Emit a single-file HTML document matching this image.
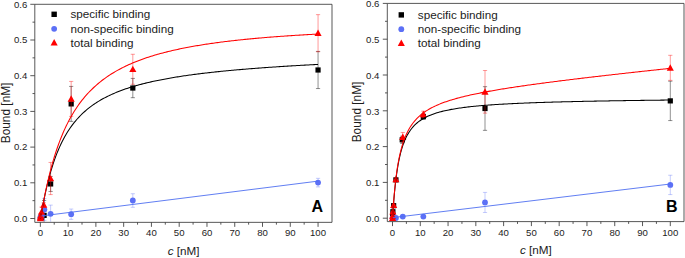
<!DOCTYPE html>
<html><head><meta charset="utf-8"><title>Binding curves</title>
<style>html,body{margin:0;padding:0;background:#fff;}svg{display:block;}</style></head><body>
<svg width="685" height="258" viewBox="0 0 685 258">
<rect width="685" height="258" fill="#fff"/>
<defs>
<clipPath id="cA"><rect x="35.30" y="4.80" width="296.20" height="217.05"/></clipPath>
<clipPath id="cB"><rect x="387.80" y="3.90" width="295.70" height="217.20"/></clipPath>
</defs>
<g stroke="#3a3a3a" stroke-width="0.85" fill="none">
<path d="M34.80 4.30H332.00V222.35H34.80Z"/>
<path d="M34.80 218.50h-4.5M34.80 200.65h-2.3M34.80 182.80h-4.5M34.80 164.95h-2.3M34.80 147.10h-4.5M34.80 129.25h-2.3M34.80 111.40h-4.5M34.80 93.55h-2.3M34.80 75.70h-4.5M34.80 57.85h-2.3M34.80 40.00h-4.5M34.80 22.15h-2.3M34.80 4.30h-4.5M40.35 222.35v4.5M54.23 222.35v2.3M68.12 222.35v4.5M82.00 222.35v2.3M95.89 222.35v4.5M109.78 222.35v2.3M123.66 222.35v4.5M137.55 222.35v2.3M151.43 222.35v4.5M165.31 222.35v2.3M179.20 222.35v4.5M193.09 222.35v2.3M206.97 222.35v4.5M220.85 222.35v2.3M234.74 222.35v4.5M248.62 222.35v2.3M262.51 222.35v4.5M276.40 222.35v2.3M290.28 222.35v4.5M304.17 222.35v2.3M318.05 222.35v4.5"/>
</g>
<g font-family='"Liberation Sans", sans-serif' font-size="9.6" fill="#1c1c1c">
<text x="27.30" y="221.85" text-anchor="end">0.0</text>
<text x="27.30" y="186.15" text-anchor="end">0.1</text>
<text x="27.30" y="150.45" text-anchor="end">0.2</text>
<text x="27.30" y="114.75" text-anchor="end">0.3</text>
<text x="27.30" y="79.05" text-anchor="end">0.4</text>
<text x="27.30" y="43.35" text-anchor="end">0.5</text>
<text x="27.30" y="7.65" text-anchor="end">0.6</text>
<text x="40.35" y="236.20" text-anchor="middle">0</text>
<text x="68.12" y="236.20" text-anchor="middle">10</text>
<text x="95.89" y="236.20" text-anchor="middle">20</text>
<text x="123.66" y="236.20" text-anchor="middle">30</text>
<text x="151.43" y="236.20" text-anchor="middle">40</text>
<text x="179.20" y="236.20" text-anchor="middle">50</text>
<text x="206.97" y="236.20" text-anchor="middle">60</text>
<text x="234.74" y="236.20" text-anchor="middle">70</text>
<text x="262.51" y="236.20" text-anchor="middle">80</text>
<text x="290.28" y="236.20" text-anchor="middle">90</text>
<text x="318.05" y="236.20" text-anchor="middle">100</text>
</g>
<g font-family='"Liberation Sans", sans-serif' font-size="11.7" fill="#1c1c1c">
<text x="183.70" y="254.80" text-anchor="middle"><tspan font-style="italic">c</tspan> [nM]</text>
<text transform="translate(9.80 112.92) rotate(-90)" text-anchor="middle" font-size="11.85">Bound [nM]</text>
</g>
<g clip-path="url(#cA)">
<path d="M318.05 51.42V88.55M315.95 51.42h4.2M315.95 88.55h4.2M132.82 78.41V97.69M130.72 78.41h4.2M130.72 97.69h4.2M71.17 86.41V121.40M69.07 86.41h4.2M69.07 121.40h4.2M50.62 176.45V191.44M48.52 176.45h4.2M48.52 191.44h4.2M44.10 200.51V230.28M42.00 200.51h4.2M42.00 230.28h4.2" stroke="#000" stroke-opacity="0.55" stroke-width="0.8" fill="none"/>
<rect x="315.45" y="67.39" width="5.2" height="5.2" fill="#000000"/>
<rect x="130.22" y="85.45" width="5.2" height="5.2" fill="#000000"/>
<rect x="68.57" y="101.30" width="5.2" height="5.2" fill="#000000"/>
<rect x="48.02" y="181.34" width="5.2" height="5.2" fill="#000000"/>
<rect x="41.50" y="212.79" width="5.2" height="5.2" fill="#000000"/>
<rect x="38.89" y="214.47" width="5.2" height="5.2" fill="#000000"/>
<rect x="38.13" y="215.19" width="5.2" height="5.2" fill="#000000"/>
<rect x="37.88" y="215.54" width="5.2" height="5.2" fill="#000000"/>
<path d="M318.05 178.34V186.91M315.95 178.34h4.2M315.95 186.91h4.2M132.82 193.72V207.29M130.72 193.72h4.2M130.72 207.29h4.2M71.17 209.04V219.39M69.07 209.04h4.2M69.07 219.39h4.2M50.62 205.11V222.61M48.52 205.11h4.2M48.52 222.61h4.2M44.38 198.51V220.64M42.28 198.51h4.2M42.28 220.64h4.2" stroke="#5c70f6" stroke-opacity="0.45" stroke-width="0.8" fill="none"/>
<circle cx="318.05" cy="182.62" r="2.9" fill="#5c70f6"/>
<circle cx="132.82" cy="200.51" r="2.9" fill="#5c70f6"/>
<circle cx="71.17" cy="214.22" r="2.9" fill="#5c70f6"/>
<circle cx="50.62" cy="213.86" r="2.9" fill="#5c70f6"/>
<circle cx="44.38" cy="209.57" r="2.9" fill="#5c70f6"/>
<circle cx="41.49" cy="215.64" r="2.9" fill="#5c70f6"/>
<circle cx="40.73" cy="217.07" r="2.9" fill="#5c70f6"/>
<circle cx="40.48" cy="217.79" r="2.9" fill="#5c70f6"/>
<path d="M318.05 14.65V51.78M315.95 14.65h4.2M315.95 51.78h4.2M132.82 54.28V84.27M130.72 54.28h4.2M130.72 84.27h4.2M71.17 81.41V116.40M69.07 81.41h4.2M69.07 116.40h4.2M50.62 162.45V194.58M48.52 162.45h4.2M48.52 194.58h4.2M43.77 202.79V207.08M41.67 202.79h4.2M41.67 207.08h4.2M41.49 207.08V217.07M39.39 207.08h4.2M39.39 217.07h4.2M40.73 213.50V217.79M38.63 213.50h4.2M38.63 217.79h4.2" stroke="#ff0000" stroke-opacity="0.5" stroke-width="0.8" fill="none"/>
<path d="M318.05 29.62L321.60 36.02H314.50Z" fill="#ff0000"/>
<path d="M132.82 65.67L136.37 72.07H129.27Z" fill="#ff0000"/>
<path d="M71.17 95.30L74.72 101.70H67.62Z" fill="#ff0000"/>
<path d="M50.62 174.92L54.17 181.32H47.07Z" fill="#ff0000"/>
<path d="M43.77 201.33L47.32 207.73H40.22Z" fill="#ff0000"/>
<path d="M41.49 208.47L45.04 214.87H37.94Z" fill="#ff0000"/>
<path d="M40.73 212.04L44.28 218.44H37.18Z" fill="#ff0000"/>
<path d="M40.48 213.83L44.03 220.23H36.93Z" fill="#ff0000"/>
<path d="M40.39 214.90L43.94 221.30H36.84Z" fill="#ff0000"/>
<path d="M40.35 218.50L40.59 217.37L40.82 216.14L41.06 214.89L41.29 213.62L41.53 212.35L41.76 211.09L42.00 209.83L42.23 208.57L42.47 207.33L42.70 206.09L42.94 204.87L43.17 203.66L43.41 202.46L43.64 201.28L43.88 200.11L44.12 198.95L44.35 197.80L44.59 196.67L44.82 195.55L45.06 194.45L45.29 193.35L45.53 192.28L45.76 191.21L46.00 190.16L46.23 189.12L46.47 188.10L46.70 187.08L46.94 186.09L47.17 185.10L47.41 184.12L47.65 183.16L47.88 182.21L48.12 181.27L48.35 180.35L48.59 179.43L48.82 178.53L49.06 177.64L49.29 176.76L49.53 175.89L49.76 175.03L50.00 174.18L50.23 173.35L50.47 172.52L50.70 171.70L50.94 170.90L51.18 170.10L51.41 169.31L51.65 168.54L51.88 167.77L52.12 167.01L52.35 166.26L52.59 165.52L52.82 164.79L53.06 164.07L53.29 163.35L53.53 162.65L53.76 161.95L54.00 161.26L54.23 160.58L55.56 156.89L56.89 153.43L58.21 150.18L59.54 147.12L60.86 144.24L62.19 141.53L63.51 138.96L64.84 136.54L66.17 134.24L67.49 132.06L68.82 129.99L70.14 128.03L71.47 126.16L72.79 124.38L74.12 122.68L75.45 121.06L76.77 119.51L78.10 118.02L79.42 116.61L80.75 115.25L82.07 113.94L83.40 112.69L84.73 111.49L86.05 110.33L87.38 109.22L88.70 108.15L90.03 107.12L91.35 106.13L92.68 105.17L94.01 104.24L95.33 103.35L96.66 102.49L97.98 101.65L99.31 100.84L100.63 100.06L101.96 99.30L103.29 98.57L104.61 97.86L105.94 97.17L107.26 96.50L108.59 95.85L109.91 95.22L111.24 94.61L112.57 94.01L113.89 93.43L115.22 92.87L116.54 92.32L117.87 91.79L119.19 91.27L120.52 90.76L121.85 90.27L123.17 89.78L124.50 89.32L125.82 88.86L127.15 88.41L128.47 87.97L129.80 87.55L131.13 87.13L132.45 86.73L133.78 86.33L135.10 85.94L136.43 85.56L137.75 85.19L139.08 84.82L140.41 84.47L141.73 84.12L143.06 83.78L144.38 83.45L145.71 83.12L147.03 82.80L148.36 82.48L149.69 82.18L151.01 81.87L152.34 81.58L153.66 81.29L154.99 81.00L156.31 80.72L157.64 80.45L158.97 80.18L160.29 79.91L161.62 79.65L162.94 79.40L164.27 79.15L165.59 78.90L166.92 78.66L168.25 78.42L169.57 78.19L170.90 77.96L172.22 77.73L173.55 77.51L174.87 77.29L176.20 77.07L177.53 76.86L178.85 76.65L180.18 76.45L181.50 76.25L182.83 76.05L184.15 75.85L185.48 75.66L186.81 75.47L188.13 75.28L189.46 75.09L190.78 74.91L192.11 74.73L193.43 74.56L194.76 74.38L196.09 74.21L197.41 74.04L198.74 73.87L200.06 73.71L201.39 73.54L202.71 73.38L204.04 73.23L205.37 73.07L206.69 72.91L208.02 72.76L209.34 72.61L210.67 72.46L211.99 72.32L213.32 72.17L214.65 72.03L215.97 71.89L217.30 71.75L218.62 71.61L219.95 71.47L221.27 71.34L222.60 71.21L223.93 71.07L225.25 70.94L226.58 70.82L227.90 70.69L229.23 70.56L230.55 70.44L231.88 70.32L233.20 70.20L234.53 70.08L235.86 69.96L237.18 69.84L238.51 69.72L239.83 69.61L241.16 69.49L242.48 69.38L243.81 69.27L245.14 69.16L246.46 69.05L247.79 68.94L249.11 68.84L250.44 68.73L251.76 68.63L253.09 68.52L254.42 68.42L255.74 68.32L257.07 68.22L258.39 68.12L259.72 68.02L261.04 67.92L262.37 67.82L263.70 67.73L265.02 67.63L266.35 67.54L267.67 67.44L269.00 67.35L270.32 67.26L271.65 67.17L272.98 67.08L274.30 66.99L275.63 66.90L276.95 66.81L278.28 66.73L279.60 66.64L280.93 66.55L282.26 66.47L283.58 66.38L284.91 66.30L286.23 66.22L287.56 66.14L288.88 66.05L290.21 65.97L291.54 65.89L292.86 65.81L294.19 65.73L295.51 65.66L296.84 65.58L298.16 65.50L299.49 65.42L300.82 65.35L302.14 65.27L303.47 65.20L304.79 65.12L306.12 65.05L307.44 64.98L308.77 64.91L310.10 64.83L311.42 64.76L312.75 64.69L314.07 64.62L315.40 64.55L316.72 64.48L318.05 64.41" stroke="#000000" stroke-width="1.05" fill="none"/>
<path d="M40.35 216.11L318.05 181.12" stroke="#4f6ff0" stroke-width="0.9" fill="none"/>
<path d="M40.35 218.50L40.59 217.33L40.82 216.08L41.06 214.81L41.29 213.53L41.53 212.25L41.76 210.98L42.00 209.70L42.23 208.44L42.47 207.18L42.70 205.93L42.94 204.68L43.17 203.45L43.41 202.23L43.64 201.02L43.88 199.82L44.12 198.63L44.35 197.45L44.59 196.28L44.82 195.12L45.06 193.98L45.29 192.84L45.53 191.72L45.76 190.61L46.00 189.51L46.23 188.41L46.47 187.34L46.70 186.27L46.94 185.21L47.17 184.16L47.41 183.13L47.65 182.10L47.88 181.09L48.12 180.08L48.35 179.09L48.59 178.10L48.82 177.13L49.06 176.16L49.29 175.21L49.53 174.26L49.76 173.33L50.00 172.40L50.23 171.49L50.47 170.58L50.70 169.68L50.94 168.79L51.18 167.91L51.41 167.04L51.65 166.18L51.88 165.32L52.12 164.48L52.35 163.64L52.59 162.81L52.82 161.99L53.06 161.18L53.29 160.37L53.53 159.58L53.76 158.79L54.00 158.01L54.23 157.23L55.56 153.01L56.89 149.01L58.21 145.22L59.54 141.62L60.86 138.19L62.19 134.93L63.51 131.83L64.84 128.87L66.17 126.05L67.49 123.36L68.82 120.78L70.14 118.32L71.47 115.96L72.79 113.70L74.12 111.53L75.45 109.45L76.77 107.45L78.10 105.53L79.42 103.68L80.75 101.91L82.07 100.19L83.40 98.55L84.73 96.96L86.05 95.42L87.38 93.94L88.70 92.51L90.03 91.13L91.35 89.80L92.68 88.50L94.01 87.25L95.33 86.04L96.66 84.87L97.98 83.74L99.31 82.64L100.63 81.57L101.96 80.53L103.29 79.52L104.61 78.55L105.94 77.60L107.26 76.68L108.59 75.78L109.91 74.91L111.24 74.06L112.57 73.24L113.89 72.43L115.22 71.65L116.54 70.89L117.87 70.15L119.19 69.42L120.52 68.72L121.85 68.03L123.17 67.36L124.50 66.70L125.82 66.06L127.15 65.44L128.47 64.83L129.80 64.24L131.13 63.66L132.45 63.09L133.78 62.53L135.10 61.99L136.43 61.46L137.75 60.94L139.08 60.43L140.41 59.94L141.73 59.45L143.06 58.98L144.38 58.51L145.71 58.05L147.03 57.61L148.36 57.17L149.69 56.74L151.01 56.32L152.34 55.91L153.66 55.51L154.99 55.11L156.31 54.72L157.64 54.34L158.97 53.97L160.29 53.61L161.62 53.25L162.94 52.89L164.27 52.55L165.59 52.21L166.92 51.88L168.25 51.55L169.57 51.23L170.90 50.91L172.22 50.60L173.55 50.30L174.87 50.00L176.20 49.70L177.53 49.42L178.85 49.13L180.18 48.85L181.50 48.58L182.83 48.31L184.15 48.04L185.48 47.78L186.81 47.53L188.13 47.27L189.46 47.03L190.78 46.78L192.11 46.54L193.43 46.31L194.76 46.07L196.09 45.84L197.41 45.62L198.74 45.40L200.06 45.18L201.39 44.96L202.71 44.75L204.04 44.54L205.37 44.34L206.69 44.14L208.02 43.94L209.34 43.74L210.67 43.55L211.99 43.36L213.32 43.17L214.65 42.98L215.97 42.80L217.30 42.62L218.62 42.45L219.95 42.27L221.27 42.10L222.60 41.93L223.93 41.76L225.25 41.60L226.58 41.44L227.90 41.28L229.23 41.12L230.55 40.96L231.88 40.81L233.20 40.66L234.53 40.51L235.86 40.36L237.18 40.21L238.51 40.07L239.83 39.93L241.16 39.79L242.48 39.65L243.81 39.51L245.14 39.38L246.46 39.25L247.79 39.12L249.11 38.99L250.44 38.86L251.76 38.73L253.09 38.61L254.42 38.49L255.74 38.37L257.07 38.25L258.39 38.13L259.72 38.01L261.04 37.90L262.37 37.78L263.70 37.67L265.02 37.56L266.35 37.45L267.67 37.34L269.00 37.24L270.32 37.13L271.65 37.03L272.98 36.93L274.30 36.82L275.63 36.72L276.95 36.62L278.28 36.53L279.60 36.43L280.93 36.33L282.26 36.24L283.58 36.15L284.91 36.05L286.23 35.96L287.56 35.87L288.88 35.78L290.21 35.70L291.54 35.61L292.86 35.52L294.19 35.44L295.51 35.35L296.84 35.27L298.16 35.19L299.49 35.11L300.82 35.03L302.14 34.95L303.47 34.87L304.79 34.79L306.12 34.71L307.44 34.64L308.77 34.56L310.10 34.49L311.42 34.42L312.75 34.34L314.07 34.27L315.40 34.20L316.72 34.13L318.05 34.06" stroke="#ff0000" stroke-width="1.05" fill="none"/>
</g>
<rect x="51.45" y="11.60" width="5.4" height="5.4" fill="#000000"/>
<circle cx="54.15" cy="28.80" r="2.9" fill="#5c70f6"/>
<path d="M54.15 39.00L57.70 45.50H50.60Z" fill="#ff0000"/>
<g font-family='"Liberation Sans", sans-serif' font-size="11.7" fill="#1c1c1c">
<text x="70.40" y="18.20">specific binding</text>
<text x="70.40" y="32.70">non-specific binding</text>
<text x="70.40" y="47.00">total binding</text>
</g>
<text x="317.30" y="211.60" font-family='"Liberation Sans", sans-serif' font-weight="bold" font-size="16" fill="#000" text-anchor="middle">A</text>
<g stroke="#3a3a3a" stroke-width="0.85" fill="none">
<path d="M387.30 3.40H684.00V221.60H387.30Z"/>
<path d="M387.30 218.20h-4.5M387.30 200.30h-2.3M387.30 182.40h-4.5M387.30 164.50h-2.3M387.30 146.60h-4.5M387.30 128.70h-2.3M387.30 110.80h-4.5M387.30 92.90h-2.3M387.30 75.00h-4.5M387.30 57.10h-2.3M387.30 39.20h-4.5M387.30 21.30h-2.3M387.30 3.40h-4.5M392.50 221.60v4.5M406.39 221.60v2.3M420.28 221.60v4.5M434.17 221.60v2.3M448.06 221.60v4.5M461.95 221.60v2.3M475.84 221.60v4.5M489.73 221.60v2.3M503.62 221.60v4.5M517.51 221.60v2.3M531.40 221.60v4.5M545.29 221.60v2.3M559.18 221.60v4.5M573.07 221.60v2.3M586.96 221.60v4.5M600.85 221.60v2.3M614.74 221.60v4.5M628.63 221.60v2.3M642.52 221.60v4.5M656.41 221.60v2.3M670.30 221.60v4.5"/>
</g>
<g font-family='"Liberation Sans", sans-serif' font-size="9.6" fill="#1c1c1c">
<text x="379.40" y="221.95" text-anchor="end">0.0</text>
<text x="379.40" y="186.15" text-anchor="end">0.1</text>
<text x="379.40" y="150.35" text-anchor="end">0.2</text>
<text x="379.40" y="114.55" text-anchor="end">0.3</text>
<text x="379.40" y="78.75" text-anchor="end">0.4</text>
<text x="379.40" y="42.95" text-anchor="end">0.5</text>
<text x="379.40" y="7.15" text-anchor="end">0.6</text>
<text x="392.50" y="236.10" text-anchor="middle">0</text>
<text x="420.28" y="236.10" text-anchor="middle">10</text>
<text x="448.06" y="236.10" text-anchor="middle">20</text>
<text x="475.84" y="236.10" text-anchor="middle">30</text>
<text x="503.62" y="236.10" text-anchor="middle">40</text>
<text x="531.40" y="236.10" text-anchor="middle">50</text>
<text x="559.18" y="236.10" text-anchor="middle">60</text>
<text x="586.96" y="236.10" text-anchor="middle">70</text>
<text x="614.74" y="236.10" text-anchor="middle">80</text>
<text x="642.52" y="236.10" text-anchor="middle">90</text>
<text x="670.30" y="236.10" text-anchor="middle">100</text>
</g>
<g font-family='"Liberation Sans", sans-serif' font-size="11.7" fill="#1c1c1c">
<text x="535.95" y="253.90" text-anchor="middle"><tspan font-style="italic">c</tspan> [nM]</text>
<text transform="translate(361.40 112.00) rotate(-90)" text-anchor="middle" font-size="11.85">Bound [nM]</text>
</g>
<g clip-path="url(#cB)">
<path d="M670.30 81.19V120.57M668.20 81.19h4.2M668.20 120.57h4.2M485.01 86.67V130.35M482.91 86.67h4.2M482.91 130.35h4.2M423.34 113.74V119.46M421.24 113.74h4.2M421.24 119.46h4.2M402.22 136.22V143.38M400.12 136.22h4.2M400.12 143.38h4.2M395.92 178.46V181.33M393.82 178.46h4.2M393.82 181.33h4.2M393.64 204.60V206.74M391.54 204.60h4.2M391.54 206.74h4.2" stroke="#000" stroke-opacity="0.55" stroke-width="0.8" fill="none"/>
<rect x="667.70" y="98.28" width="5.2" height="5.2" fill="#000000"/>
<rect x="482.41" y="105.91" width="5.2" height="5.2" fill="#000000"/>
<rect x="420.74" y="114.00" width="5.2" height="5.2" fill="#000000"/>
<rect x="399.62" y="137.20" width="5.2" height="5.2" fill="#000000"/>
<rect x="393.32" y="177.29" width="5.2" height="5.2" fill="#000000"/>
<rect x="391.04" y="203.07" width="5.2" height="5.2" fill="#000000"/>
<rect x="390.28" y="209.16" width="5.2" height="5.2" fill="#000000"/>
<rect x="390.03" y="213.81" width="5.2" height="5.2" fill="#000000"/>
<path d="M670.30 175.24V194.57M668.20 175.24h4.2M668.20 194.57h4.2M485.01 192.42V212.47M482.91 192.42h4.2M482.91 212.47h4.2M423.34 215.16V218.02M421.24 215.16h4.2M421.24 218.02h4.2M402.78 215.16V218.02M400.68 215.16h4.2M400.68 218.02h4.2" stroke="#5c70f6" stroke-opacity="0.45" stroke-width="0.8" fill="none"/>
<circle cx="670.30" cy="184.91" r="2.9" fill="#5c70f6"/>
<circle cx="485.01" cy="202.45" r="2.9" fill="#5c70f6"/>
<circle cx="423.34" cy="216.59" r="2.9" fill="#5c70f6"/>
<circle cx="402.78" cy="216.59" r="2.9" fill="#5c70f6"/>
<circle cx="395.92" cy="218.02" r="2.9" fill="#5c70f6"/>
<circle cx="393.64" cy="217.84" r="2.9" fill="#5c70f6"/>
<circle cx="392.88" cy="218.20" r="2.9" fill="#5c70f6"/>
<circle cx="392.63" cy="218.20" r="2.9" fill="#5c70f6"/>
<path d="M670.30 55.31V80.37M668.20 55.31h4.2M668.20 80.37h4.2M485.01 70.53V113.13M482.91 70.53h4.2M482.91 113.13h4.2M423.34 111.16V117.60M421.24 111.16h4.2M421.24 117.60h4.2M402.78 132.46V141.77M400.68 132.46h4.2M400.68 141.77h4.2M395.92 177.75V181.33M393.82 177.75h4.2M393.82 181.33h4.2M393.64 204.24V206.39M391.54 204.24h4.2M391.54 206.39h4.2M392.88 211.04V212.47M390.78 211.04h4.2M390.78 212.47h4.2" stroke="#ff0000" stroke-opacity="0.5" stroke-width="0.8" fill="none"/>
<path d="M670.30 64.24L673.85 70.64H666.75Z" fill="#ff0000"/>
<path d="M485.01 88.23L488.56 94.63H481.46Z" fill="#ff0000"/>
<path d="M423.34 110.78L426.89 117.18H419.79Z" fill="#ff0000"/>
<path d="M402.78 133.51L406.33 139.91H399.23Z" fill="#ff0000"/>
<path d="M395.92 175.94L399.47 182.34H392.37Z" fill="#ff0000"/>
<path d="M393.64 201.71L397.19 208.11H390.09Z" fill="#ff0000"/>
<path d="M392.88 208.16L396.43 214.56H389.33Z" fill="#ff0000"/>
<path d="M392.63 212.45L396.18 218.85H389.08Z" fill="#ff0000"/>
<path d="M392.54 214.60L396.09 221.00H388.99Z" fill="#ff0000"/>
<path d="M392.50 218.20L392.74 214.93L392.97 211.58L393.21 208.31L393.44 205.17L393.68 202.16L393.91 199.28L394.15 196.53L394.38 193.90L394.62 191.39L394.85 189.00L395.09 186.71L395.33 184.52L395.56 182.43L395.80 180.43L396.03 178.51L396.27 176.67L396.50 174.91L396.74 173.22L396.97 171.60L397.21 170.05L397.44 168.55L397.68 167.11L397.91 165.72L398.15 164.39L398.39 163.11L398.62 161.87L398.86 160.67L399.09 159.52L399.33 158.40L399.56 157.33L399.80 156.29L400.03 155.28L400.27 154.31L400.50 153.36L400.74 152.45L400.98 151.57L401.21 150.71L401.45 149.88L401.68 149.07L401.92 148.29L402.15 147.53L402.39 146.79L402.62 146.07L402.86 145.37L403.09 144.69L403.33 144.03L403.56 143.39L403.80 142.76L404.04 142.15L404.27 141.56L404.51 140.98L404.74 140.42L404.98 139.87L405.21 139.33L405.45 138.81L405.68 138.30L405.92 137.80L406.15 137.32L406.39 136.84L407.72 134.36L409.04 132.17L410.37 130.22L411.69 128.48L413.02 126.91L414.35 125.49L415.67 124.20L417.00 123.02L418.33 121.94L419.65 120.95L420.98 120.03L422.30 119.19L423.63 118.40L424.96 117.67L426.28 116.99L427.61 116.35L428.94 115.76L430.26 115.20L431.59 114.67L432.91 114.18L434.24 113.71L435.57 113.27L436.89 112.85L438.22 112.45L439.54 112.08L440.87 111.72L442.20 111.38L443.52 111.05L444.85 110.74L446.18 110.45L447.50 110.16L448.83 109.89L450.15 109.64L451.48 109.39L452.81 109.15L454.13 108.92L455.46 108.70L456.78 108.49L458.11 108.28L459.44 108.09L460.76 107.90L462.09 107.72L463.42 107.54L464.74 107.37L466.07 107.21L467.39 107.05L468.72 106.89L470.05 106.74L471.37 106.60L472.70 106.46L474.03 106.32L475.35 106.19L476.68 106.07L478.00 105.94L479.33 105.82L480.66 105.70L481.98 105.59L483.31 105.48L484.63 105.37L485.96 105.27L487.29 105.17L488.61 105.07L489.94 104.97L491.27 104.87L492.59 104.78L493.92 104.69L495.24 104.60L496.57 104.52L497.90 104.44L499.22 104.35L500.55 104.27L501.88 104.20L503.20 104.12L504.53 104.04L505.85 103.97L507.18 103.90L508.51 103.83L509.83 103.76L511.16 103.70L512.48 103.63L513.81 103.57L515.14 103.50L516.46 103.44L517.79 103.38L519.12 103.32L520.44 103.26L521.77 103.21L523.09 103.15L524.42 103.09L525.75 103.04L527.07 102.99L528.40 102.94L529.72 102.88L531.05 102.83L532.38 102.78L533.70 102.74L535.03 102.69L536.36 102.64L537.68 102.60L539.01 102.55L540.33 102.51L541.66 102.46L542.99 102.42L544.31 102.38L545.64 102.33L546.97 102.29L548.29 102.25L549.62 102.21L550.94 102.17L552.27 102.13L553.60 102.10L554.92 102.06L556.25 102.02L557.57 101.98L558.90 101.95L560.23 101.91L561.55 101.88L562.88 101.84L564.21 101.81L565.53 101.78L566.86 101.74L568.18 101.71L569.51 101.68L570.84 101.65L572.16 101.62L573.49 101.58L574.81 101.55L576.14 101.52L577.47 101.49L578.79 101.46L580.12 101.44L581.45 101.41L582.77 101.38L584.10 101.35L585.42 101.32L586.75 101.30L588.08 101.27L589.40 101.24L590.73 101.22L592.06 101.19L593.38 101.16L594.71 101.14L596.03 101.11L597.36 101.09L598.69 101.06L600.01 101.04L601.34 101.01L602.66 100.99L603.99 100.97L605.32 100.94L606.64 100.92L607.97 100.90L609.30 100.87L610.62 100.85L611.95 100.83L613.27 100.81L614.60 100.79L615.93 100.77L617.25 100.74L618.58 100.72L619.91 100.70L621.23 100.68L622.56 100.66L623.88 100.64L625.21 100.62L626.54 100.60L627.86 100.58L629.19 100.56L630.51 100.54L631.84 100.52L633.17 100.50L634.49 100.48L635.82 100.47L637.15 100.45L638.47 100.43L639.80 100.41L641.12 100.39L642.45 100.37L643.78 100.36L645.10 100.34L646.43 100.32L647.75 100.30L649.08 100.29L650.41 100.27L651.73 100.25L653.06 100.24L654.39 100.22L655.71 100.20L657.04 100.19L658.36 100.17L659.69 100.16L661.02 100.14L662.34 100.12L663.67 100.11L665.00 100.09L666.32 100.08L667.65 100.06L668.97 100.05L670.30 100.03" stroke="#000000" stroke-width="1.05" fill="none"/>
<path d="M392.50 217.66L670.30 184.01" stroke="#4f6ff0" stroke-width="0.9" fill="none"/>
<path d="M392.50 218.20L392.74 214.51L392.97 210.95L393.21 207.55L393.44 204.33L393.68 201.26L393.91 198.34L394.15 195.56L394.38 192.92L394.62 190.40L394.85 187.99L395.09 185.70L395.33 183.50L395.56 181.40L395.80 179.39L396.03 177.47L396.27 175.62L396.50 173.85L396.74 172.14L396.97 170.51L397.21 168.93L397.44 167.41L397.68 165.95L397.91 164.54L398.15 163.18L398.39 161.87L398.62 160.60L398.86 159.38L399.09 158.19L399.33 157.04L399.56 155.93L399.80 154.86L400.03 153.81L400.27 152.80L400.50 151.82L400.74 150.87L400.98 149.95L401.21 149.05L401.45 148.18L401.68 147.33L401.92 146.50L402.15 145.70L402.39 144.92L402.62 144.16L402.86 143.42L403.09 142.70L403.33 141.99L403.56 141.30L403.80 140.63L404.04 139.98L404.27 139.34L404.51 138.72L404.74 138.11L404.98 137.52L405.21 136.93L405.45 136.37L405.68 135.81L405.92 135.27L406.15 134.74L406.39 134.21L407.72 131.48L409.04 129.03L410.37 126.83L411.69 124.84L413.02 123.03L414.35 121.37L415.67 119.85L417.00 118.44L418.33 117.13L419.65 115.92L420.98 114.79L422.30 113.73L423.63 112.74L424.96 111.80L426.28 110.92L427.61 110.08L428.94 109.29L430.26 108.54L431.59 107.82L432.91 107.14L434.24 106.48L435.57 105.86L436.89 105.26L438.22 104.68L439.54 104.13L440.87 103.60L442.20 103.08L443.52 102.58L444.85 102.10L446.18 101.64L447.50 101.19L448.83 100.75L450.15 100.33L451.48 99.92L452.81 99.52L454.13 99.13L455.46 98.75L456.78 98.38L458.11 98.02L459.44 97.67L460.76 97.32L462.09 96.98L463.42 96.65L464.74 96.33L466.07 96.01L467.39 95.70L468.72 95.40L470.05 95.10L471.37 94.80L472.70 94.52L474.03 94.23L475.35 93.95L476.68 93.68L478.00 93.41L479.33 93.14L480.66 92.88L481.98 92.62L483.31 92.36L484.63 92.11L485.96 91.86L487.29 91.62L488.61 91.38L489.94 91.14L491.27 90.90L492.59 90.67L493.92 90.43L495.24 90.21L496.57 89.98L497.90 89.76L499.22 89.53L500.55 89.32L501.88 89.10L503.20 88.88L504.53 88.67L505.85 88.46L507.18 88.25L508.51 88.04L509.83 87.83L511.16 87.63L512.48 87.43L513.81 87.23L515.14 87.03L516.46 86.83L517.79 86.63L519.12 86.44L520.44 86.24L521.77 86.05L523.09 85.86L524.42 85.67L525.75 85.48L527.07 85.29L528.40 85.10L529.72 84.92L531.05 84.73L532.38 84.55L533.70 84.37L535.03 84.19L536.36 84.01L537.68 83.83L539.01 83.65L540.33 83.47L541.66 83.29L542.99 83.12L544.31 82.94L545.64 82.77L546.97 82.59L548.29 82.42L549.62 82.25L550.94 82.08L552.27 81.91L553.60 81.73L554.92 81.57L556.25 81.40L557.57 81.23L558.90 81.06L560.23 80.89L561.55 80.73L562.88 80.56L564.21 80.40L565.53 80.23L566.86 80.07L568.18 79.90L569.51 79.74L570.84 79.58L572.16 79.42L573.49 79.26L574.81 79.09L576.14 78.93L577.47 78.77L578.79 78.61L580.12 78.46L581.45 78.30L582.77 78.14L584.10 77.98L585.42 77.82L586.75 77.67L588.08 77.51L589.40 77.35L590.73 77.20L592.06 77.04L593.38 76.89L594.71 76.73L596.03 76.58L597.36 76.42L598.69 76.27L600.01 76.11L601.34 75.96L602.66 75.81L603.99 75.66L605.32 75.50L606.64 75.35L607.97 75.20L609.30 75.05L610.62 74.90L611.95 74.75L613.27 74.60L614.60 74.45L615.93 74.30L617.25 74.15L618.58 74.00L619.91 73.85L621.23 73.70L622.56 73.55L623.88 73.40L625.21 73.25L626.54 73.10L627.86 72.96L629.19 72.81L630.51 72.66L631.84 72.51L633.17 72.37L634.49 72.22L635.82 72.07L637.15 71.93L638.47 71.78L639.80 71.64L641.12 71.49L642.45 71.34L643.78 71.20L645.10 71.05L646.43 70.91L647.75 70.76L649.08 70.62L650.41 70.48L651.73 70.33L653.06 70.19L654.39 70.04L655.71 69.90L657.04 69.76L658.36 69.61L659.69 69.47L661.02 69.33L662.34 69.18L663.67 69.04L665.00 68.90L666.32 68.75L667.65 68.61L668.97 68.47L670.30 68.33" stroke="#ff0000" stroke-width="1.05" fill="none"/>
</g>
<rect x="398.60" y="12.20" width="5.4" height="5.4" fill="#000000"/>
<circle cx="401.30" cy="29.20" r="2.9" fill="#5c70f6"/>
<path d="M401.30 39.50L404.85 46.00H397.75Z" fill="#ff0000"/>
<g font-family='"Liberation Sans", sans-serif' font-size="11.7" fill="#1c1c1c">
<text x="417.80" y="18.50">specific binding</text>
<text x="417.80" y="32.80">non-specific binding</text>
<text x="417.80" y="46.60">total binding</text>
</g>
<text x="671.80" y="212.00" font-family='"Liberation Sans", sans-serif' font-weight="bold" font-size="16" fill="#000" text-anchor="middle">B</text>
</svg></body></html>
